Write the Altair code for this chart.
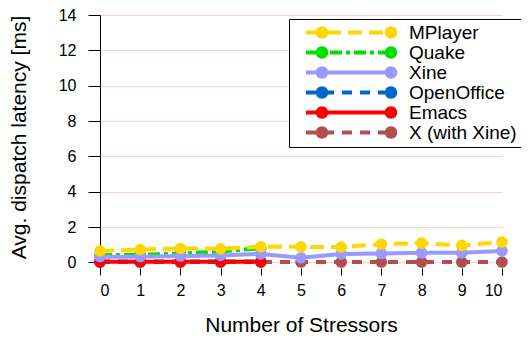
import altair as alt
import pandas as pd

# ---------------- data ----------------
series = ["MPlayer", "Quake", "Xine", "OpenOffice", "Emacs", "X (with Xine)"]
colors = ["#FFD700", "#00E000", "#9999FF", "#0066CC", "#FF0000", "#B04F4F"]

stressors_all = [0, 1, 2, 3, 4, 5, 6, 7, 8, 9, 10]
stressors_short = [0, 1, 2, 3, 4]

mplayer = [0.65, 0.73, 0.79, 0.77, 0.88, 0.88, 0.87, 1.03, 1.09, 0.96, 1.15]
quake = [0.41, 0.43, 0.50, 0.62, 0.80]
xine = [0.32, 0.32, 0.36, 0.39, 0.48, 0.26, 0.48, 0.50, 0.54, 0.54, 0.65]
openoffice = [0.05, 0.05, 0.05, 0.05, 0.05]
emacs = [0.03, 0.03, 0.03, 0.03, 0.03]
x_with_xine = [0.02, 0.02, 0.02, 0.02, 0.02, 0.02, 0.02, 0.02, 0.02, 0.02, 0.02]

y_ticks = [0, 2, 4, 6, 8, 10, 12, 14]
x_ticks = stressors_all

# ---------------- styles ----------------
dash = {
    "MPlayer": [14, 7],
    "Quake": [12, 4, 4, 4],
    "Xine": [],
    "OpenOffice": [10, 8],
    "Emacs": [],
    "X (with Xine)": [10, 8],
}
draw_order = ["X (with Xine)", "OpenOffice", "Emacs", "Quake", "Xine", "MPlayer"]
FONT = "Liberation Sans"

records = []
for name, xs, ys in [
    ("MPlayer", stressors_all, mplayer),
    ("Quake", stressors_short, quake),
    ("Xine", stressors_all, xine),
    ("OpenOffice", stressors_short, openoffice),
    ("Emacs", stressors_short, emacs),
    ("X (with Xine)", stressors_all, x_with_xine),
]:
    for xv, yv in zip(xs, ys):
        records.append({"series": name, "stressors": xv, "latency": yv})
df = pd.DataFrame(records)

# ---------------- legend symbol paths (unit = 5px) ----------------
U = 5.0
L, R = -8.5, 8.5
H = 0.4
RAD = 1.25


def rect(a, b):
    return f"M{a:.3f},{-H}H{b:.3f}V{H}H{a:.3f}Z"


def circ(cx):
    return (f"M{cx - RAD:.3f},0A{RAD},{RAD} 0 1,1 {cx + RAD:.3f},0"
            f"A{RAD},{RAD} 0 1,1 {cx - RAD:.3f},0Z")


def legend_path(pattern):
    parts = ["M-11.1,0"]
    if not pattern:
        parts.append(rect(L, R))
    else:
        pos = L
        i = 0
        while pos < R:
            seg = pattern[i % len(pattern)] / U
            if i % 2 == 0:
                parts.append(rect(pos, min(pos + seg, R)))
            pos += seg
            i += 1
    parts.append(circ(-5.3))
    parts.append(circ(R))
    return "".join(parts)


expr = " : ".join(
    f"datum.value === '{n}' ? '{legend_path(dash[n])}'" for n in series
) + " : 'circle'"

color_scale = alt.Scale(domain=series, range=colors)
# line colours: same mapping, listed in drawing order (keeps it a separate scale)
stroke_scale = alt.Scale(
    domain=draw_order, range=[colors[series.index(n)] for n in draw_order]
)

x_enc = alt.X(
    "stressors:Q",
    scale=alt.Scale(domain=[0, 10], nice=False, zero=False),
    axis=alt.Axis(
        values=x_ticks, grid=False, domain=False, tickSize=7, offset=-5,
        tickColor="black", labelFontSize=16, labelFont=FONT, labelColor="black",
        labelPadding=7, title="Number of Stressors", titleFontSize=21,
        titleFont=FONT, titleFontWeight="normal", titleColor="black",
        titleY=57, titleBaseline="middle",
    ),
)
y_enc = alt.Y(
    "latency:Q",
    scale=alt.Scale(domain=[-0.6, 14], nice=False, zero=False),
    axis=alt.Axis(
        values=y_ticks, grid=True, gridColor="#FFCCCC", gridWidth=1.2,
        domain=True, domainColor="black", tickColor="black", tickSize=12,
        labelFontSize=16, labelFont=FONT, labelColor="black", labelPadding=12,
        title="Avg. dispatch latency [ms]", titleFontSize=21, titleFont=FONT,
        titleFontWeight="normal", titleColor="black", titleX=-81, titleY=122,
        titleBaseline="middle",
    ),
)

legend = alt.Legend(
    orient="none", legendX=189, legendY=4, title=None,
    symbolType={"expr": expr}, symbolSize=100, symbolStrokeWidth=0,
    symbolOffset=46, labelOffset=51, labelFontSize=19, labelFont=FONT,
    labelColor="black", padding=4, rowPadding=0, strokeColor="black",
    fillColor="white", symbolOpacity=1,
)

layers = []
for name in draw_order:
    base = alt.Chart(df).transform_filter(alt.datum.series == name)
    line_kwargs = {"strokeWidth": 4}
    if dash[name]:
        line_kwargs["strokeDash"] = dash[name]
    line = base.mark_line(**line_kwargs).encode(
        x=x_enc, y=y_enc,
        stroke=alt.Stroke("series:N", scale=stroke_scale, legend=None),
    )
    pts = base.mark_point(filled=True, size=135, opacity=1).encode(
        x=x_enc, y=y_enc,
        color=alt.Color("series:N", scale=color_scale, legend=legend),
    )
    layers += [line, pts]

chart = alt.layer(*layers).properties(
    width=402, height=258,
    autosize=alt.AutoSizeParams(type="none"),
    padding={"left": 92, "top": 7, "right": 19, "bottom": 66},
).configure_view(stroke=None)

chart.save("out.html", embed_options={"renderer": "svg", "actions": False})
